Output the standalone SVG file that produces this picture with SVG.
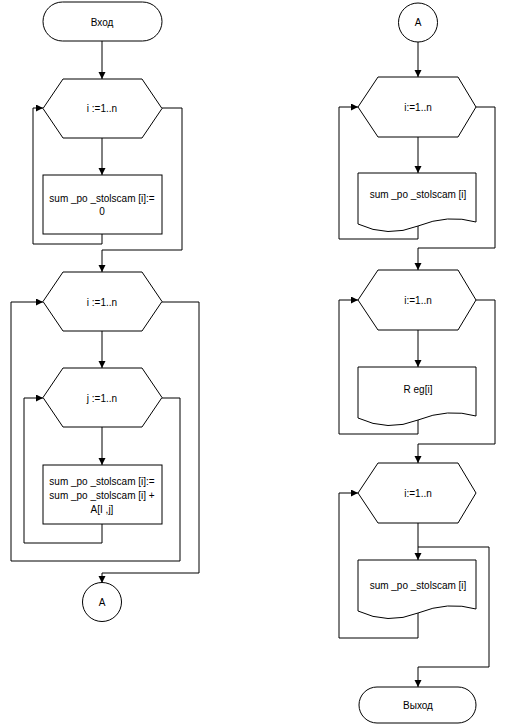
<svg xmlns="http://www.w3.org/2000/svg" width="505" height="727" viewBox="0 0 505 727">
<style>
.s{fill:#fff;stroke:#000;stroke-width:1}
.c{fill:none;stroke:#000;stroke-width:1}
text{font-family:"Liberation Sans",Arial,sans-serif;font-size:10px;fill:#000;text-anchor:middle}
</style>
<defs>
<marker id="ar" markerUnits="userSpaceOnUse" markerWidth="8" markerHeight="8" refX="7" refY="3.5" orient="auto">
<path d="M0,0 L7,3.5 L0,7 z" fill="#000"/>
</marker>
</defs>
<rect width="505" height="727" fill="#fff"/>
<g id="connectors" class="c" marker-end="url(#ar)">
<path class="c" marker-end="url(#ar)" d="M102,41 V79"/>
<path class="c" marker-end="url(#ar)" d="M102,138 V175"/>
<path class="c" marker-end="url(#ar)" d="M102,234 V244 H33 V108 H43"/>
<path class="c" marker-end="url(#ar)" d="M162,108 H182 V250 H102 V272"/>
<path class="c" marker-end="url(#ar)" d="M102,331 V368"/>
<path class="c" marker-end="url(#ar)" d="M102,427 V465"/>
<path class="c" marker-end="url(#ar)" d="M102,524 V543 H24 V398 H43"/>
<path class="c" marker-end="url(#ar)" d="M162,398 H180 V561 H11 V302 H43"/>
<path class="c" marker-end="url(#ar)" d="M162,302 H199 V573 H102 V583"/>
<path class="c" marker-end="url(#ar)" d="M418,42 V77"/>
<path class="c" marker-end="url(#ar)" d="M418,137 V173"/>
<path class="c" marker-end="url(#ar)" d="M418,226 V239 H339 V107 H358"/>
<path class="c" marker-end="url(#ar)" d="M476,107 H495 V248 H418 V270"/>
<path class="c" marker-end="url(#ar)" d="M418,330 V367"/>
<path class="c" marker-end="url(#ar)" d="M418,420 V434 H339 V300 H358"/>
<path class="c" marker-end="url(#ar)" d="M476,300 H495 V444 H418 V463"/>
<path class="c" marker-end="url(#ar)" d="M418,523 V560"/>
<path class="c" marker-end="url(#ar)" d="M418,613 V638 H339 V493 H358"/>
<path class="c" marker-end="url(#ar)" d="M418,547 H489 V667 H418 V687"/>
</g>
<g id="start">
<rect class="s" x="43" y="2" width="119" height="39" rx="19.5"/>
<text x="102" y="25.5">Вход</text>
</g>
<g id="loop1">
<polygon class="s" points="43,108.5 63,79 142,79 162,108.5 142,138 63,138"/>
<text x="102" y="112">i :=1..n</text>
</g>
<g id="init">
<rect class="s" x="43" y="175" width="119" height="59"/>
<text x="102" y="201.5">sum _po _stolscam [i]:=</text>
<text x="102" y="215">0</text>
</g>
<g id="loop2">
<polygon class="s" points="43,301.5 63,272 142,272 162,301.5 142,331 63,331"/>
<text x="102" y="305.5">i :=1..n</text>
</g>
<g id="loop3">
<polygon class="s" points="43,397.5 63,368 142,368 162,397.5 142,427 63,427"/>
<text x="102" y="401.5">j :=1..n</text>
</g>
<g id="sum">
<rect class="s" x="43" y="465" width="119" height="59"/>
<text x="102" y="484.5">sum _po _stolscam [i]:=</text>
<text x="102" y="499">sum _po _stolscam [i] +</text>
<text x="102" y="513">A[I ,j]</text>
</g>
<g id="connA1">
<circle class="s" cx="102" cy="602" r="19.5"/>
<text x="102" y="605.5">A</text>
</g>
<g id="connA2">
<circle class="s" cx="418" cy="22.5" r="19.5"/>
<text x="418" y="26">A</text>
</g>
<g id="loop4">
<polygon class="s" points="358,107 378,77 458,77 476,107 458,137 378,137"/>
<text x="418" y="111">i:=1..n</text>
</g>
<g id="out1">
<path class="s" d="M358,224 V173 H476 V222 Q448,214 418,226 T358,224 Z"/>
<text x="418" y="197.5">sum _po _stolscam [i]</text>
</g>
<g id="loop5">
<polygon class="s" points="358,300 378,270 458,270 476,300 458,330 378,330"/>
<text x="418" y="304">i:=1..n</text>
</g>
<g id="out2">
<path class="s" d="M358,418 V367 H476 V416 Q448,408 418,420 T358,418 Z"/>
<text x="418" y="393">R eg[i]</text>
</g>
<g id="loop6">
<polygon class="s" points="358,493 378,463 458,463 476,493 458,523 378,523"/>
<text x="418" y="497">i:=1..n</text>
</g>
<g id="out3">
<path class="s" d="M358,611 V560 H476 V609 Q448,601 418,613 T358,611 Z"/>
<text x="418" y="588.5">sum _po _stolscam [i]</text>
</g>
<g id="end">
<rect class="s" x="359" y="687" width="117" height="36" rx="18"/>
<text x="418" y="708.5">Выход</text>
</g>
</svg>
